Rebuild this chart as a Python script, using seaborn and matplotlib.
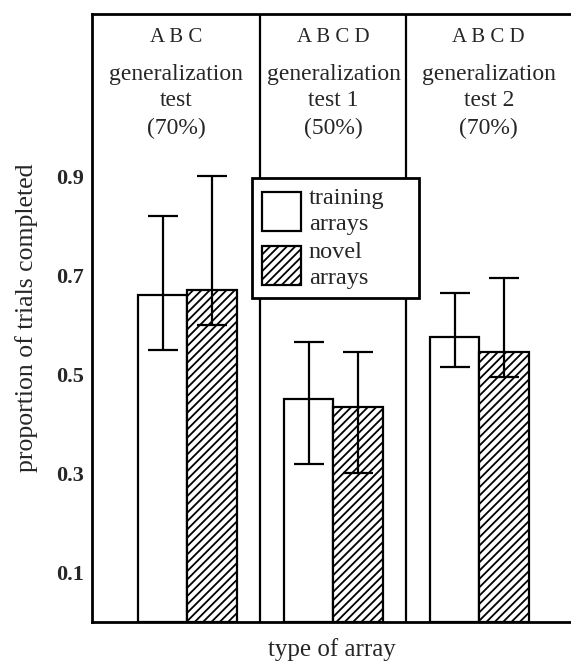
import numpy as np
import pandas as pd
import seaborn as sns
import matplotlib.pyplot as plt
from matplotlib.patches import Patch

sns.set_style("white")
plt.rcParams['font.family'] = ['Liberation Serif', 'DejaVu Serif']
plt.rcParams['hatch.linewidth'] = 1.3

# data
grupos = ["ABC", "ABCD 1", "ABCD 2"]
training = [0.66, 0.45, 0.575]
training_lo = [0.55, 0.32, 0.515]
training_hi = [0.82, 0.565, 0.665]
novel = [0.67, 0.435, 0.545]
novel_lo = [0.60, 0.30, 0.495]
novel_hi = [0.90, 0.545, 0.695]

titulos = [["A B C", "generalization", "test", "(70%)"],
           ["A B C D", "generalization", "test 1", "(50%)"],
           ["A B C D", "generalization", "test 2", "(70%)"]]

df = pd.DataFrame({
    "grupo": grupos * 2,
    "tipo": ["training"] * 3 + ["novel"] * 3,
    "valor": training + novel,
})

fig = plt.figure(figsize=(5.71, 6.61), dpi=100)
ax = fig.add_axes([92/571, 39/661, 479/571, 608/661])

sns.barplot(data=df, x="grupo", y="valor", hue="tipo", hue_order=["training", "novel"],
            palette=["white", "white"], edgecolor="black", linewidth=1.6,
            width=0.672, gap=0, errorbar=None, legend=False, ax=ax)

for p in ax.containers[1]:
    p.set_hatch("////")

# error bars (asimetricas)
for cont, val, lo, hi in [(ax.containers[0], training, training_lo, training_hi),
                          (ax.containers[1], novel, novel_lo, novel_hi)]:
    xs = [p.get_x() + p.get_width() / 2 for p in cont]
    err = np.array([np.array(val) - np.array(lo), np.array(hi) - np.array(val)])
    ax.errorbar(xs, val, yerr=err, fmt="none", ecolor="black", elinewidth=1.6,
                capsize=10.5, capthick=1.6, zorder=5)

xmin, xmax = -0.654, 2.627
ax.set_xlim(xmin, xmax)

# separadores
divs = [0.5, 1.5]
for xv in divs:
    ax.axvline(xv, color="black", lw=1.6, zorder=1)

# textos de arriba, centrados en cada panel
bordes = [xmin] + divs + [xmax]
ys = [0.962, 0.900, 0.858, 0.811]
for i, lineas in enumerate(titulos):
    xc = (bordes[i] + bordes[i + 1]) / 2
    for j, t in enumerate(lineas):
        ax.text(xc, ys[j], t, transform=ax.get_xaxis_transform(), ha="center", va="center",
                fontsize=15 if j == 0 else 17)

ax.set_ylim(0, 1.228)
ax.set_yticks(np.arange(0.1, 1.01, 0.1))
ax.set_yticklabels(["0.1", "", "0.3", "", "0.5", "", "0.7", "", "0.9", ""],
                   fontsize=16, fontweight="bold")
ax.tick_params(axis="y", direction="in", length=7, width=1.4, pad=6)
ax.tick_params(axis="x", length=0)
ax.set_xticklabels([])
ax.set_xlabel("type of array", fontsize=18, labelpad=8)
ax.set_ylabel("proportion of trials completed", fontsize=18.5, labelpad=13)

for s in ["left", "bottom", "top"]:
    ax.spines[s].set_linewidth(2)
    ax.spines[s].set_color("black")
ax.spines["right"].set_visible(False)

handles = [Patch(facecolor="white", edgecolor="black", lw=1.6, label="training\narrays"),
           Patch(facecolor="white", edgecolor="black", lw=1.6, hatch="////", label="novel\narrays")]
leg = ax.legend(handles=handles, loc="upper left",
                bbox_to_anchor=(160/479, (622-294)/608, 167/479, 116/608), mode="expand",
                fontsize=17.5, frameon=True, fancybox=False, handlelength=1.6,
                handleheight=2.05, handletextpad=0.33, borderpad=0.4, labelspacing=0.3,
                borderaxespad=0)
for t in leg.get_texts():
    t.set_linespacing(1.3)
leg.get_frame().set_edgecolor("black")
leg.get_frame().set_linewidth(2)
leg.get_frame().set_alpha(1)
leg.set_zorder(10)

fig.savefig("out.png", dpi=100)
